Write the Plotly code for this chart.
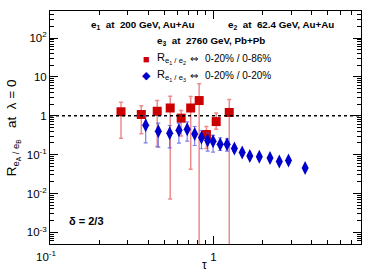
import numpy as np
import plotly.graph_objects as go

# ---------------- data ----------------
red_x = [0.272, 0.362, 0.453, 0.544, 0.635, 0.726, 0.818, 0.906, 1.04, 1.25]
red_y = [1.27, 1.08, 1.31, 1.59, 0.87, 1.59, 2.47, 0.33, 0.71, 1.22]
red_hi = [2.24, 1.81, 2.47, 3.19, 1.37, 3.13, 6.65, 0.53, 1.19, 2.62]
red_lo = [0.266, 0.344, 0.163, 0.0072, 0.3, 0.042, 1e-5, 0.144, 0.45, 1e-5]

blue_x = [0.385, 0.46, 0.54, 0.615, 0.691, 0.768, 0.845, 0.922, 0.995, 1.10,
          1.212, 1.343, 1.50, 1.67, 1.91, 2.22, 2.53, 2.88, 3.64]
blue_y = [0.573, 0.402, 0.357, 0.426, 0.452, 0.340, 0.277, 0.232, 0.222, 0.186,
          0.186, 0.144, 0.114, 0.0926, 0.0883, 0.0823, 0.0669, 0.0710, 0.045]
blue_hi = [1.0, 0.645, 0.563, 0.645, 0.70, 0.531, 0.419, 0.357, 0.312, 0.272,
           0.256, 0.172, 0.135, 0.108, 0.103, 0.094, 0.077, 0.082, 0.051]
blue_lo = [0.202, 0.156, 0.150, 0.198, 0.222, 0.172, 0.142, 0.123, 0.116, 0.128,
           0.123, 0.121, 0.097, 0.080, 0.076, 0.072, 0.058, 0.062, 0.040]

x_tickvals = [0.1, 1]
x_ticktext = ["10<sup>-1</sup>", "1"]
y_tickvals = [1e-3, 1e-2, 1e-1, 1, 10, 100]
y_ticktext = ["10<sup>-3</sup>", "10<sup>-2</sup>", "10<sup>-1</sup>", "1", "10", "10<sup>2</sup>"]

FONT = "Liberation Sans"
X_RANGE = [-1, np.log10(8)]

def errs(y, hi, lo):
    y = np.array(y); hi = np.array(hi); lo = np.array(lo)
    return list(hi - y), list(y - lo)

r_plus, r_minus = errs(red_y, red_hi, red_lo)
b_plus, b_minus = errs(blue_y, blue_hi, blue_lo)

fig = go.Figure()
fig.add_trace(go.Scatter(
    x=red_x, y=red_y, mode="markers",
    marker=dict(symbol="square", size=9, color="#cc0000"),
    error_y=dict(type="data", symmetric=False, array=r_plus, arrayminus=r_minus,
                 color="rgba(230,90,90,0.7)", thickness=1.5, width=2),
    showlegend=False))
fig.add_trace(go.Scatter(
    x=blue_x, y=blue_y, mode="markers",
    marker=dict(symbol="diamond-tall", size=10, color="#0000cc"),
    error_y=dict(type="data", symmetric=False, array=b_plus, arrayminus=b_minus,
                 color="rgba(70,70,230,0.7)", thickness=1.2, width=2),
    showlegend=False))

fig.add_shape(type="line", xref="paper", x0=0, x1=1, yref="y", y0=1, y1=1,
              line=dict(color="black", width=1.5, dash="dot"))

x_minor = [k * 0.1 for k in range(2, 10)] + [float(k) for k in range(2, 9)]
y_minor = [m * 10.0 ** e for e in range(-4, 3) for m in range(2, 10)]
y_minor = [v for v in y_minor if 5e-4 <= v <= 500]

# the "10^-1" label is drawn as an annotation (shifted), "1" as a native tick label
fig.update_xaxes(type="log", range=X_RANGE, showline=True, linecolor="black",
                 linewidth=1, mirror="allticks", ticks="inside", ticklen=8, tickcolor="black",
                 tickvals=x_tickvals, ticktext=["", x_ticktext[1]], showticklabels=True,
                 tickfont=dict(family=FONT, size=11.5, color="black"), ticklabelstandoff=2,
                 showgrid=False, zeroline=False,
                 minor=dict(tickvals=x_minor, ticks="inside", ticklen=4, tickcolor="black",
                            showgrid=False))
fig.update_yaxes(type="log", range=[np.log10(5e-4), np.log10(500)], showline=True,
                 linecolor="black", linewidth=1, mirror="allticks", ticks="inside", ticklen=8,
                 tickcolor="black", tickvals=y_tickvals, ticktext=y_ticktext, showgrid=False,
                 zeroline=False, tickfont=dict(family=FONT, size=11.5, color="black"),
                 minor=dict(tickvals=y_minor, ticks="inside", ticklen=4, tickcolor="black",
                            showgrid=False))

def xpaper(v):
    return float((np.log10(v) - X_RANGE[0]) / (X_RANGE[1] - X_RANGE[0]))

ann = []
def A(text, x, y, size, xanchor="left", color="black", angle=0, family=FONT):
    ann.append(dict(text=text, x=x, y=y, xref="paper", yref="paper", showarrow=False,
                    xanchor=xanchor, yanchor="middle", textangle=angle,
                    font=dict(family=family, size=size, color=color)))

A(x_ticktext[0], xpaper(x_tickvals[0]) - 0.014, -0.052, 11.5, xanchor="center")

A("<b>e<sub>1</sub>  at  200 GeV, Au+Au</b>", 0.124, 0.939, 9.8)
A("<b>e<sub>2</sub>  at  62.4 GeV, Au+Au</b>", 0.565, 0.939, 9.8)
A("<b>e<sub>3</sub>  at  2760 GeV, Pb+Pb</b>", 0.339, 0.870, 9.8)
A("■", 0.31, 0.796, 11, xanchor="center", color="#cc0000")
A("◆", 0.31, 0.724, 11, xanchor="center", color="#0000cc")
A("R<sub>e<sub>1</sub> / e<sub>2</sub></sub>", 0.339, 0.796, 11)
A("R<sub>e<sub>1</sub> / e<sub>3</sub></sub>", 0.339, 0.724, 11)
A("⇔", 0.464, 0.796, 10, xanchor="center", family="DejaVu Sans")
A("⇔", 0.464, 0.724, 10, xanchor="center", family="DejaVu Sans")
A("0-20% / 0-86%", 0.492, 0.796, 10)
A("0-20% / 0-20%", 0.492, 0.724, 10)
A("<b>δ = 2/3</b>", 0.055, 0.100, 11)
A("τ", 0.497, -0.089, 12, xanchor="center")
A("R<sub>e<sub>A</sub> / e<sub>B</sub></sub>   at  λ = 0", -0.12, 0.5, 13.5,
  xanchor="center", angle=-90)

fig.update_layout(width=382, height=274,
                  margin=dict(l=50, r=21, t=11, b=30, autoexpand=False),
                  paper_bgcolor="white", plot_bgcolor="white", annotations=ann,
                  font=dict(family=FONT, color="black"))

fig.write_html("out.html", config={"displayModeBar": False},
               post_script="document.body.style.margin='0';document.body.style.overflow='hidden';")
